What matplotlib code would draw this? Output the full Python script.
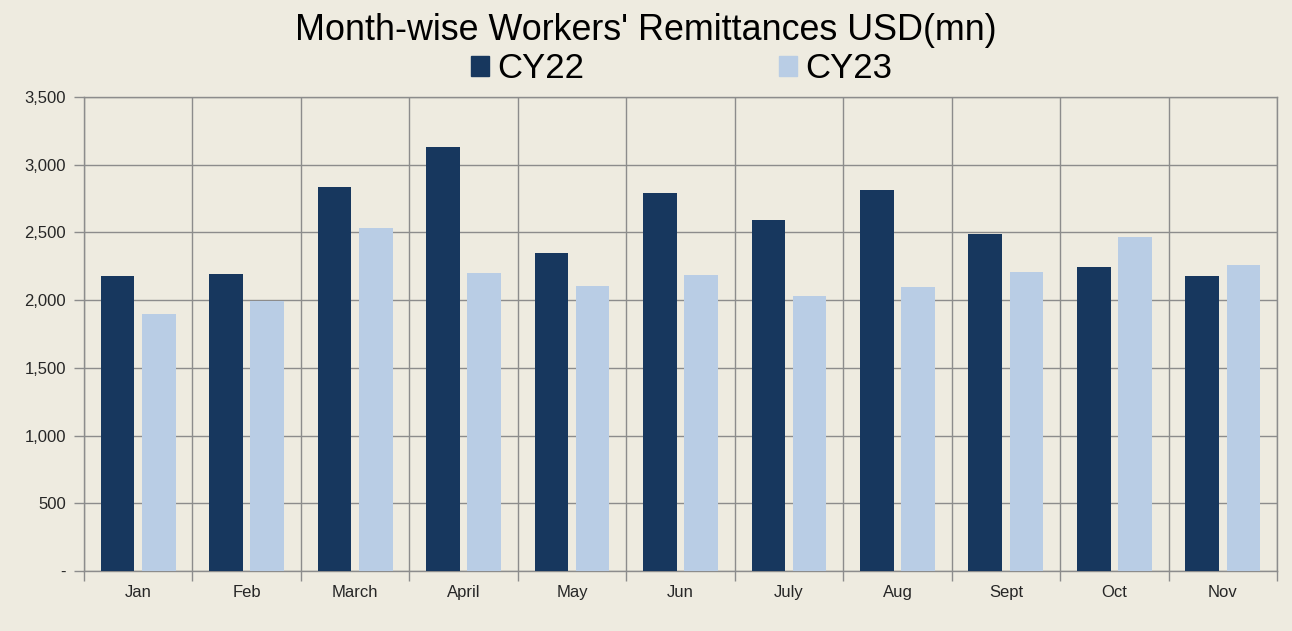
import numpy as np
import matplotlib
matplotlib.use("Agg")
import matplotlib.pyplot as plt
from matplotlib.patches import Patch

months = ["Jan", "Feb", "March", "April", "May", "Jun", "July", "Aug", "Sept", "Oct", "Nov"]
cy22 = [2180, 2195, 2835, 3130, 2345, 2790, 2595, 2810, 2485, 2245, 2180]
cy23 = [1900, 1990, 2535, 2200, 2105, 2185, 2030, 2100, 2205, 2465, 2260]
yticks = [0, 500, 1000, 1500, 2000, 2500, 3000, 3500]

bg = "#EEEBE0"
dark = "#17375E"
light = "#B9CDE5"
grid = "#8C8C8C"

plt.rcParams["font.family"] = ["Liberation Sans", "DejaVu Sans"]

fig = plt.figure(figsize=(12.92, 6.31), dpi=100, facecolor=bg)
ax = fig.add_axes([84 / 1292, 1 - 571 / 631, (1277 - 84) / 1292, (571 - 97) / 631])
ax.set_facecolor(bg)

x = np.arange(len(months))
w = 0.31
ax.bar(x - 0.19, cy22, w, color=dark, zorder=3)
ax.bar(x + 0.19, cy23, w, color=light, zorder=3)

ax.set_xlim(-0.5, len(months) - 0.5)
ax.set_ylim(0, 3500)
ax.set_yticks(yticks)
ax.set_yticklabels(["-" if v == 0 else f"{v:,}" for v in yticks])

# category boundaries as major ticks/grid, labels on minor ticks
ax.set_xticks(np.arange(len(months) + 1) - 0.5)
ax.set_xticklabels([])
ax.set_xticks(x, minor=True)
ax.set_xticklabels(months, minor=True)
ax.tick_params(axis="x", which="minor", length=0, pad=10, labelsize=12, labelcolor="#262626")
ax.tick_params(axis="x", which="major", length=7, color=grid, width=1)
ax.tick_params(axis="y", length=7, color=grid, width=1, labelsize=12, labelcolor="#262626", pad=6)

ax.grid(True, which="major", color=grid, linewidth=1, zorder=0)
for s in ax.spines.values():
    s.set_color(grid)
    s.set_linewidth(1)

fig.text(0.5, 1 - 31 / 631, "Month-wise Workers' Remittances USD(mn)", ha="center", va="center",
         fontsize=25.8, color="black")
handles = [Patch(color=dark, label="CY22"), Patch(color=light, label="CY23")]
fig.legend(handles=handles, loc="center", bbox_to_anchor=(0.5275, 1 - 69 / 631), ncol=2,
           frameon=False, fontsize=25, handlelength=0.52, handleheight=0.52,
           handletextpad=0.25, columnspacing=5.6, borderpad=0)

fig.savefig("out.png", dpi=100, facecolor=bg)
